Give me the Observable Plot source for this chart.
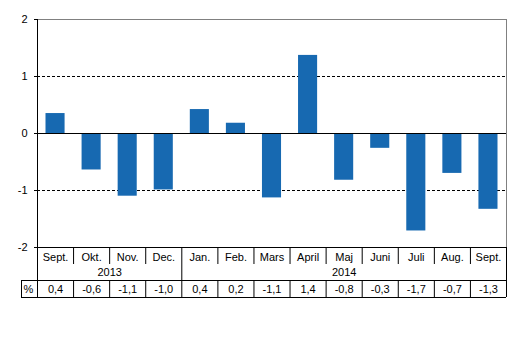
<!DOCTYPE html>
<html><head><meta charset="utf-8">
<script src="https://cdn.jsdelivr.net/npm/d3@7"></script>
<script src="https://cdn.jsdelivr.net/npm/@observablehq/plot@0.6"></script>
<style>body{margin:0;background:#fff}</style>
</head><body><div id="chart"></div>
<script>
const months = ["Sept.","Okt.","Nov.","Dec.","Jan.","Feb.","Mars","April","Maj","Juni","Juli","Aug.","Sept."];
const values = [0.35,-0.64,-1.10,-0.99,0.42,0.18,-1.13,1.37,-0.82,-0.26,-1.71,-0.70,-1.33];
const tableLabels = ["0,4","-0,6","-1,1","-1,0","0,4","0,2","-1,1","1,4","-0,8","-0,3","-1,7","-0,7","-1,3"];
const years = [{label:"2013", start:0, end:4},{label:"2014", start:4, end:13}];
const yTicks = [-2,-1,0,1,2];

const data = months.map((m,i)=>({i, m, v: values[i], t: tableLabels[i]}));
// pixel -> data helpers (layout only)
const pTop = 19, pBottom = 247, per = (pBottom-pTop)/4;
const py = p => 2 - (p - pTop)/per;
const pLeft = 37, pRight = 506, n = months.length;
const px = p => (p - pLeft) / (pRight-pLeft) * n;

const font = "Liberation Sans, Arial, sans-serif";
const chart = Plot.plot({
  width: 530, height: 358,
  marginLeft: pLeft, marginRight: 530-pRight, marginTop: pTop, marginBottom: 358-pBottom,
  style: {fontFamily: font, fontSize: "11px", color: "#000", background: "#fff", overflow: "visible"},
  x: {domain: [0, n], axis: null},
  y: {domain: [-2, 2], axis: null},
  marks: [
    Plot.ruleY([1,-1], {x1: 0, x2: n, stroke: "#000", strokeDasharray: "3,2", strokeWidth: 1}),
    Plot.ruleY([2], {x1: 0, x2: n, stroke: "#808080"}),
    Plot.ruleX([n], {y1: 2, y2: -2, stroke: "#808080"}),
    Plot.rectY(data, {x1: d=>d.i, x2: d=>d.i+1, y1: 0, y2: "v", fill: "#1769b1", insetLeft: 8.5, insetRight: 8.5}),
    Plot.ruleY([0], {x1: 0, x2: n, stroke: "#000"}),
    // y axis
    Plot.ruleX([0], {y1: 2, y2: py(297), stroke: "#000"}),
    Plot.ruleY(yTicks, {x1: px(34), x2: 0, stroke: "#000"}),
    Plot.text(yTicks, {x: 0, y: d=>d, text: d=>String(d), textAnchor: "end", dx: -10, fill: "#000"}),
    // table lines
    Plot.ruleY([-2], {x1: 0, x2: n, stroke: "#000"}),
    Plot.ruleY([py(280), py(297)], {x1: px(21), x2: n, stroke: "#000"}),
    Plot.ruleX([px(21)], {y1: py(280), y2: py(297), stroke: "#000"}),
    Plot.ruleX([n], {y1: -2, y2: py(297), stroke: "#000"}),
    Plot.ruleX(d3.range(1, n).filter(i=>i!==4), {y1: -2, y2: py(264), stroke: "#000"}),
    Plot.ruleX([4], {y1: -2, y2: py(280), stroke: "#000"}),
    Plot.ruleX(d3.range(1, n), {y1: py(280), y2: py(297), stroke: "#000"}),
    // table text
    Plot.text(data, {x: d=>d.i+0.5, y: py(256.5), text: "m", fill: "#000"}),
    Plot.text(years, {x: d=>(d.start+d.end)/2, y: py(272), text: "label", fill: "#000"}),
    Plot.text(data, {x: d=>d.i+0.5, y: py(289), text: "t", fill: "#000"}),
    Plot.text(["%"], {x: px(23), y: py(288.5), text: d=>d, textAnchor: "start", fill: "#000"})
  ]
});
document.getElementById("chart").appendChild(chart);
</script></body></html>
